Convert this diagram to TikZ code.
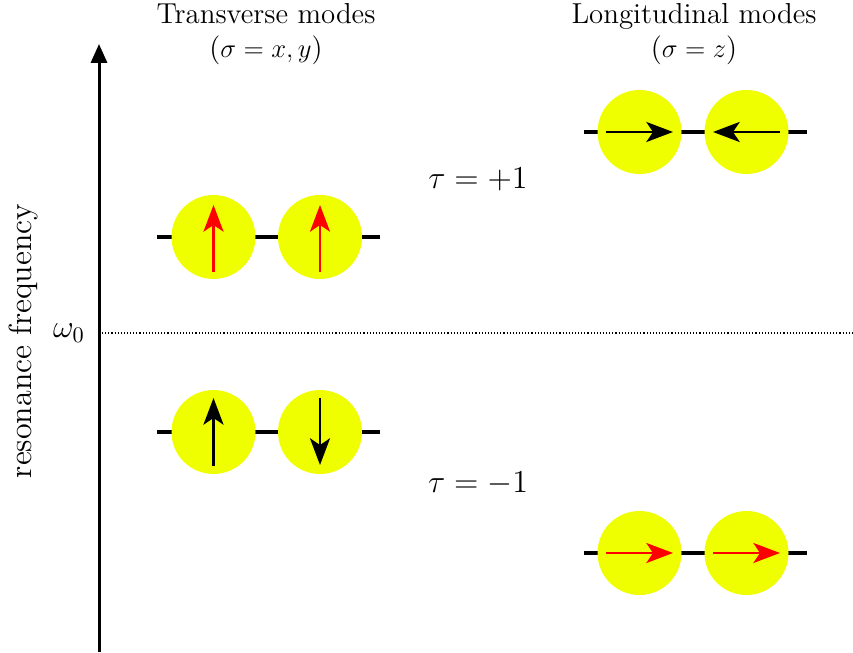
\documentclass[tikz,border=0pt]{standalone}
\usetikzlibrary{arrows.meta}
\definecolor{spinyellow}{RGB}{240,255,0}

\begin{document}
\begin{tikzpicture}[x=0.45pt,y=0.45pt,
  site/.style={circle, fill=spinyellow, minimum size=37.8pt, inner sep=0pt},
  chain/.style={line width=1.8pt},
  spin/.style={line width=1.2pt, -{Stealth[length=12pt,width=9pt,inset=3pt]}},
  axis/.style={line width=1.35pt, -{Triangle[length=8.5pt,width=7.2pt]}},
  heading/.style={font=\fontsize{13}{15.5}\selectfont, align=center}]
\useasboundingbox (0,0) rectangle (853,652);
% frequency axis
\coordinate (base) at (99,0);
\coordinate (top) at (99,608);
\draw[axis] (base) -- (top);
\node[rotate=90, font=\Large] (label) at (23,311) {resonance frequency};
\node[font=\Large] (w0) at (69,319) {$\omega_0$};
\coordinate (w0end) at (853,319);
\draw[line width=0.5pt, dash pattern=on 0.5pt off 0.9pt] (base |- w0) -- (w0end);
% headings
\node[heading] (trans) at (266,618) {Transverse modes\\($\sigma=x,y$)};
\node[heading] (longi) at (694,618) {Longitudinal modes\\($\sigma=z$)};
\node[font=\Large] (tplus) at (478,473) {$\tau=+1$};
\node[font=\Large] (tminus) at (478,168) {$\tau=-1$};
% chains
\coordinate (ta) at (157,415); \coordinate (tb) at (380,415);
\coordinate (tc) at (157,220); \coordinate (td) at (380,220);
\coordinate (la) at (584,520); \coordinate (lb) at (807,520);
\coordinate (lc) at (584,99);  \coordinate (ld) at (807,99);
\draw[chain] (ta) -- (tb);
\draw[chain] (tc) -- (td);
\draw[chain] (la) -- (lb);
\draw[chain] (lc) -- (ld);
% sites
\node[site] (t1) at (213.5,415) {};
\node[site] (t2) at (320,415) {};
\node[site] (t3) at (213.5,220) {};
\node[site] (t4) at (320,220) {};
\node[site] (l1) at (639.5,520) {};
\node[site] (l2) at (746.5,520) {};
\node[site] (l3) at (639.5,99) {};
\node[site] (l4) at (746.5,99) {};
% spins
\draw[spin, red] (t1.center) ++(0,-35) -- ++(0,67);
\draw[spin, red] (t2.center) ++(0,-35) -- ++(0,67);
\draw[spin] (t3.center) ++(0,-34) -- ++(0,68);
\draw[spin] (t4.center) ++(0,34) -- ++(0,-67);
\draw[spin] (l1.center) ++(-33.5,0) -- ++(67,0);
\draw[spin] (l2.center) ++(33.5,0) -- ++(-67,0);
\draw[spin, red] (l3.center) ++(-33.5,0) -- ++(67,0);
\draw[spin, red] (l4.center) ++(-33.5,0) -- ++(67,0);
\end{tikzpicture}
\end{document}
